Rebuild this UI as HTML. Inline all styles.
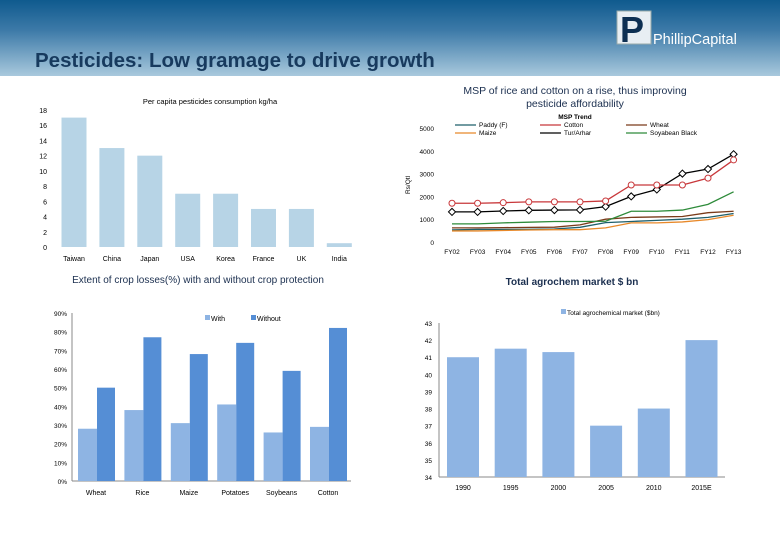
<!DOCTYPE html>
<html><head><meta charset="utf-8"><style>
body{margin:0;width:780px;height:540px;overflow:hidden;background:#fff;font-family:"Liberation Sans",sans-serif;}
#hdr{position:absolute;left:0;top:0;width:780px;height:76px;background:linear-gradient(#0f5a8e,#3d7aa8 40%,#a9c9dd);}
svg text{font-family:"Liberation Sans",sans-serif;}
</style></head><body>
<div id="hdr"></div>
<svg width="780" height="540" style="position:absolute;left:0;top:0" id="s">
<g>
<rect x="617" y="11" width="34" height="33" fill="#e8eef3" stroke="#9aa" />
<text x="620" y="42" font-size="36" font-weight="bold" fill="#0d2f52">P</text>
<text x="653" y="44" font-size="14.5" fill="#fff">PhillipCapital</text>
</g>
<text x="35" y="67" font-size="20.5" font-weight="bold" fill="#173a5e">Pesticides: Low gramage to drive growth</text>
<text x="210" y="104" font-size="7.5" text-anchor="middle">Per capita pesticides consumption kg/ha</text>
<text x="575" y="94" font-size="10.5" text-anchor="middle" fill="#1b2f4f">MSP of rice and cotton on a rise, thus improving</text>
<text x="575" y="107" font-size="10.5" text-anchor="middle" fill="#1b2f4f">pesticide affordability</text>
<text x="198" y="283" font-size="10" text-anchor="middle" fill="#1b2f4f">Extent of crop losses(%) with and without crop protection</text>
<text x="572" y="285" font-size="10" font-weight="bold" text-anchor="middle" fill="#1b2f4f">Total agrochem market $ bn</text>
<g id="c1"></g><g id="c2"></g><g id="c3"></g><g id="c4"></g>
</svg>
<script>
const NS="http://www.w3.org/2000/svg";
function mk(p,t,a,txt){const e=document.createElementNS(NS,t);for(const k in a)e.setAttribute(k,a[k]);if(txt!=null)e.textContent=txt;p.appendChild(e);return e;}
// chart1
const c1Cats=["Taiwan","China","Japan","USA","Korea","France","UK","India"];
const c1Vals=[17,13,12,7,7,5,5,0.5];
const c1Ticks=[0,2,4,6,8,10,12,14,16,18];
// chart2
const lnCats=["FY02","FY03","FY04","FY05","FY06","FY07","FY08","FY09","FY10","FY11","FY12","FY13"];
const lnTicks=[0,1000,2000,3000,4000,5000];
const paddy=[530,550,550,560,570,645,850,900,950,1000,1080,1250];
const cotton=[1700,1700,1725,1760,1760,1760,1800,2500,2500,2500,2800,3600];
const wheat=[620,620,630,640,650,750,1000,1080,1100,1120,1285,1350];
const maize=[485,485,505,525,540,540,620,840,840,880,980,1175];
const tur=[1320,1320,1360,1390,1400,1410,1550,2000,2300,3000,3200,3850];
const soya=[795,795,840,870,900,900,910,1350,1350,1400,1650,2200];
// chart3
const cropCats=["Wheat","Rice","Maize","Potatoes","Soybeans","Cotton"];
const withVals=[28,38,31,41,26,29];
const withoutVals=[50,77,68,74,59,82];
const cropTicks=[0,10,20,30,40,50,60,70,80,90];
// chart4
const agCats=["1990","1995","2000","2005","2010","2015E"];
const agVals=[41,41.5,41.3,37,38,42];
const agTicks=[34,35,36,37,38,39,40,41,42,43];

(function(){const g=document.getElementById('c1');
const y=v=>247-v*(137/18), x=i=>74+i*37.9;
c1Ticks.forEach(t=>{const e=mk(g,'text',{x:47,y:y(t)+3,'font-size':7,'text-anchor':'end'},t);

});
c1Cats.forEach((c,i)=>{const r=mk(g,'rect',{x:x(i)-12.5,y:y(c1Vals[i]),width:25,height:247-y(c1Vals[i]),fill:'#b7d4e6'});


const t=mk(g,'text',{x:x(i),y:261,'font-size':7,'text-anchor':'middle'},c);

});})();

(function(){const g=document.getElementById('c2');
const y=v=>242-v*(114/5000), x=i=>452+i*25.6;
lnTicks.forEach(t=>{const e=mk(g,'text',{x:434,y:y(t)+3,'font-size':6.5,'text-anchor':'end'},t);

});
const yl=mk(g,'text',{x:0,y:0,'font-size':6.5,transform:'translate(410,185) rotate(-90)','text-anchor':'middle'},'Rs/Qtl');


lnCats.forEach((c,i)=>{const t=mk(g,'text',{x:x(i),y:254,'font-size':6.5,'text-anchor':'middle'},c);

});
const ser=[["paddy",paddy,"#1f5f6b",null],["maize",maize,"#e8892a",null],["wheat",wheat,"#7a3b1a",null],["soya",soya,"#2e8b3a",null],["tur",tur,"#000","d"],["cotton",cotton,"#c8373a","o"]];
ser.forEach(([n,d,col,m])=>{const p=mk(g,'polyline',{points:d.map((v,i)=>x(i)+','+y(v)).join(' '),fill:'none',stroke:col,'stroke-width':1.3});


if(m)d.forEach((v,i)=>{let e;if(m=='o')e=mk(g,'circle',{cx:x(i),cy:y(v),r:3,fill:'#fff',stroke:col});
else e=mk(g,'rect',{x:x(i)-2.5,y:y(v)-2.5,width:5,height:5,fill:'#fff',stroke:col,transform:`rotate(45 ${x(i)} ${y(v)})`});

});});
const lt=mk(g,'text',{x:575,y:119,'font-size':6.5,'font-weight':'bold','text-anchor':'middle'},'MSP Trend');


[["Paddy (F)","#1f5f6b",455,127],["Cotton","#c8373a",540,127],["Wheat","#7a3b1a",626,127],["Maize","#e8892a",455,135],["Tur/Arhar","#000",540,135],["Soyabean Black","#2e8b3a",626,135]].forEach(([n,c,lx,ly])=>{
const l=mk(g,'line',{x1:lx,y1:ly-2,x2:lx+21,y2:ly-2,stroke:c,'stroke-width':1.2});


const t=mk(g,'text',{x:lx+24,y:ly,'font-size':6.5},n);

});})();

(function(){const g=document.getElementById('c3');
const y=v=>481-v*(168/90), x=i=>72+i*46.4;
mk(g,'line',{x1:72,y1:313,x2:72,y2:481,stroke:'#888'});
mk(g,'line',{x1:72,y1:481,x2:351,y2:481,stroke:'#888'});
cropTicks.forEach(t=>{const e=mk(g,'text',{x:67,y:y(t)+3,'font-size':6.5,'text-anchor':'end'},t+'%');

});
cropCats.forEach((c,i)=>{
const a=mk(g,'rect',{x:x(i)+6,y:y(withVals[i]),width:19,height:481-y(withVals[i]),fill:'#8eb4e3'});


const b=mk(g,'rect',{x:x(i)+25,y:y(withoutVals[i]),width:18,height:481-y(withoutVals[i]),fill:'#558ed5'});


const t=mk(g,'text',{x:x(i)+24,y:495,'font-size':7,'text-anchor':'middle'},c);

});
[["With","#8eb4e3",205],["Without","#558ed5",251]].forEach(([n,c,lx])=>{
const r=mk(g,'rect',{x:lx,y:315,width:5,height:5,fill:c});


const t=mk(g,'text',{x:lx+6,y:321,'font-size':7},n);

});})();

(function(){const g=document.getElementById('c4');
const y=v=>477-(v-34)*(154/9), x=i=>439+i*47.7;
mk(g,'line',{x1:439,y1:323,x2:439,y2:477,stroke:'#888'});
mk(g,'line',{x1:439,y1:477,x2:725,y2:477,stroke:'#888'});
agTicks.forEach(t=>{const e=mk(g,'text',{x:432,y:y(t)+3,'font-size':6.5,'text-anchor':'end'},t);

});
agCats.forEach((c,i)=>{const r=mk(g,'rect',{x:x(i)+8,y:y(agVals[i]),width:32,height:477-y(agVals[i]),fill:'#8eb4e3'});


const t=mk(g,'text',{x:x(i)+24,y:490,'font-size':7,'text-anchor':'middle'},c);

});
const r=mk(g,'rect',{x:561,y:309,width:5,height:5,fill:'#8eb4e3'});


const t=mk(g,'text',{x:567,y:315,'font-size':6.5},'Total agrochemical market ($bn)');

})();
</script>
</body></html>
